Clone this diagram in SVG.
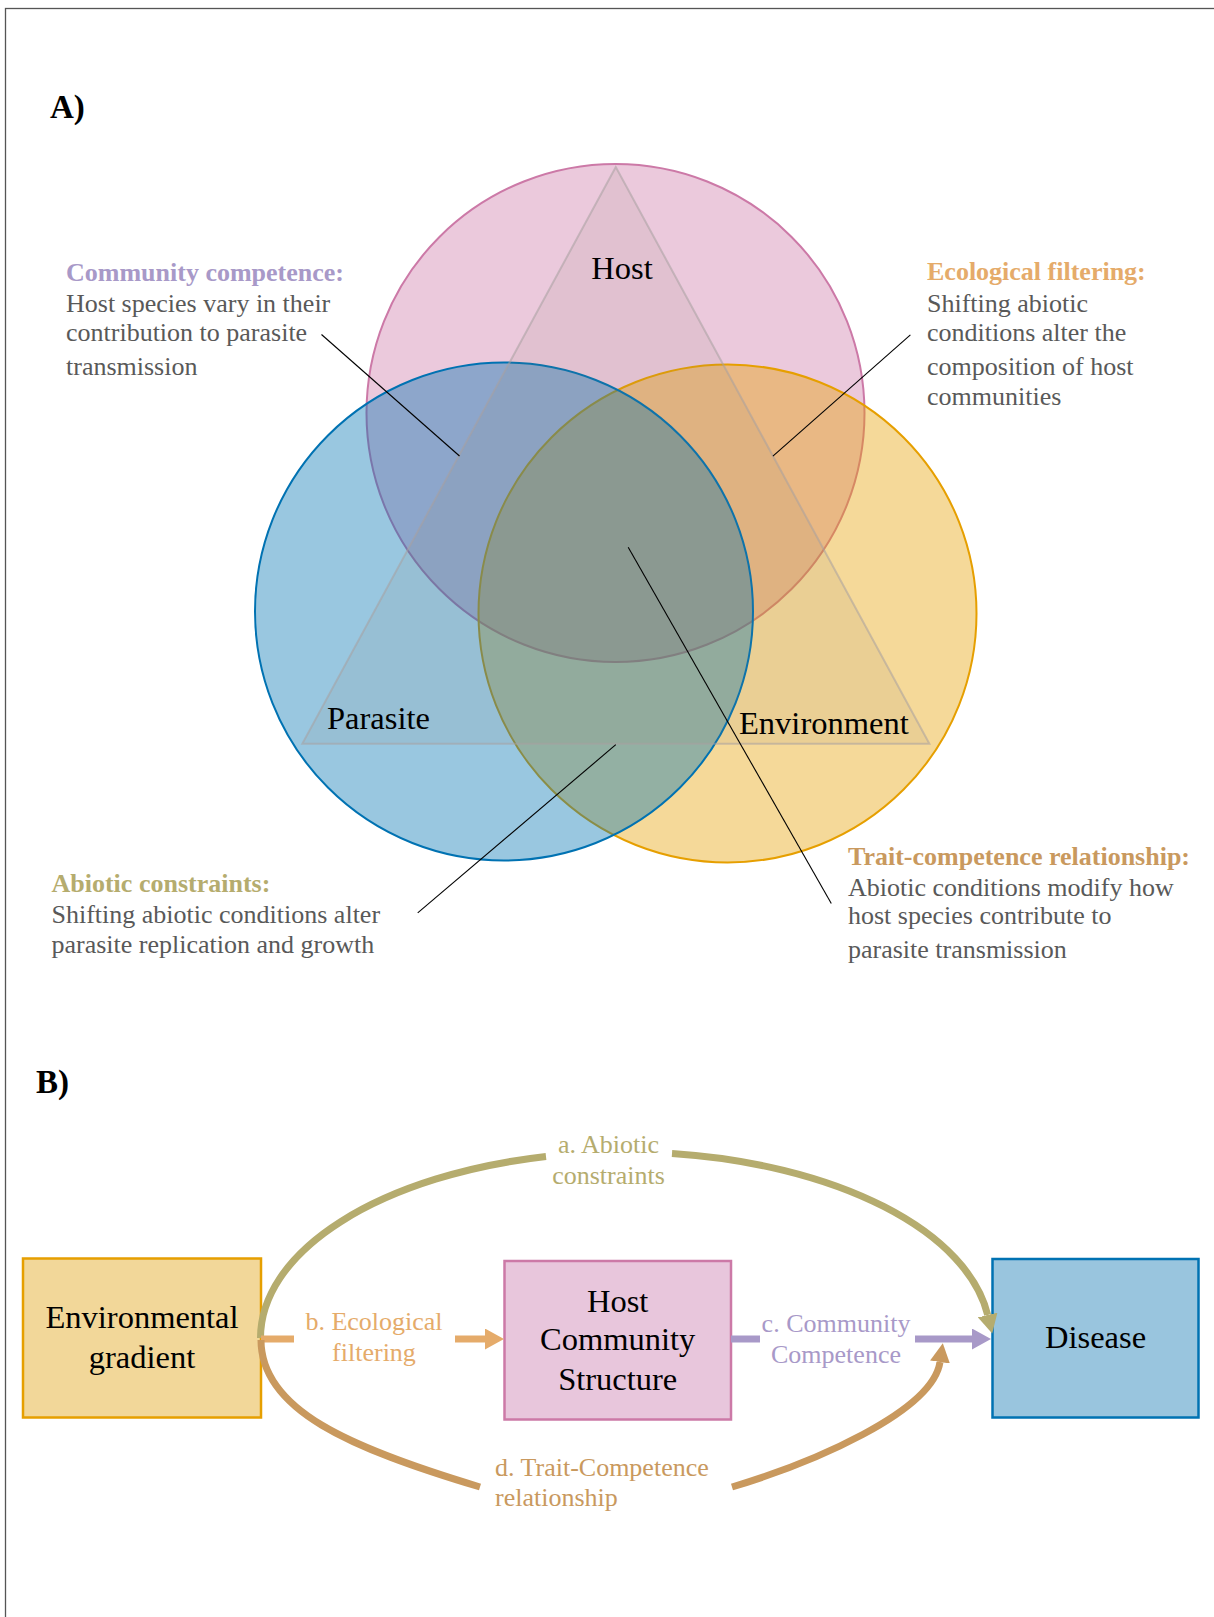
<svg xmlns="http://www.w3.org/2000/svg" width="1214" height="1617" viewBox="0 0 1214 1617">
<style>
text{font-family:"Liberation Serif","Times New Roman",serif}
.lbl{font-size:32.5px;fill:#000}
.panel{font-size:33px;font-weight:bold;fill:#000}
.ttl{font-size:26px;font-weight:bold}
.body{font-size:26px;fill:#595959}
.arcl{font-size:26px}
.leader{stroke:#000;stroke-width:1.1;fill:none}
.thick{fill:none;stroke-width:7}
</style>
<defs>
<marker id="ah-a" markerUnits="userSpaceOnUse" markerWidth="20" markerHeight="20" refX="0" refY="10" orient="auto"><path d="M0,0 L19,10 L0,20 z" fill="#b5ac6e"/></marker>
<marker id="ah-b" markerUnits="userSpaceOnUse" markerWidth="20" markerHeight="21" refX="0" refY="10.5" orient="auto"><path d="M0,0 L19,10.5 L0,21 z" fill="#e5ab6a"/></marker>
<marker id="ah-c" markerUnits="userSpaceOnUse" markerWidth="20" markerHeight="21" refX="0" refY="10.5" orient="auto"><path d="M0,0 L19,10.5 L0,21 z" fill="#a899c8"/></marker>
<marker id="ah-d" markerUnits="userSpaceOnUse" markerWidth="20" markerHeight="20" refX="0" refY="10" orient="auto"><path d="M0,0 L19,10 L0,20 z" fill="#c9995e"/></marker>
</defs>
<rect x="0" y="0" width="1214" height="1617" fill="#fff"/>
<rect x="5.5" y="8.5" width="1230" height="1630" fill="none" stroke="#555" stroke-width="1.3"/>

<text class="panel" x="50" y="118">A)</text>
<text class="panel" x="36" y="1093">B)</text>

<g id="venn-host"><circle cx="615.5" cy="413" r="249" fill="#CC79A7" fill-opacity="0.4" stroke="#CC79A7" stroke-width="2"/></g>
<g id="venn-environment"><circle cx="727.5" cy="613.5" r="249" fill="#E69F00" fill-opacity="0.4" stroke="#E69F00" stroke-width="2"/></g>
<g id="venn-parasite"><circle cx="504" cy="611.5" r="249" fill="#0072B2" fill-opacity="0.4" stroke="#0072B2" stroke-width="2"/></g>
<g id="triangle"><polygon points="615.8,167 302.3,743.8 929.4,743.8" fill="#8c7b70" fill-opacity="0.1" stroke="#a8a0a0" stroke-opacity="0.55" stroke-width="2"/></g>
<g id="venn-labels">
<text class="lbl" x="622" y="279" text-anchor="middle">Host</text>
<text class="lbl" x="327" y="728.6">Parasite</text>
<text class="lbl" x="739" y="733.6">Environment</text>
</g>

<g id="note-community">
<text class="ttl" x="66" y="281" fill="#a899c8">Community competence:</text>
<text class="body" x="66" y="311.5">Host species vary in their</text>
<text class="body" x="66" y="341">contribution to parasite</text>
<text class="body" x="66" y="375">transmission</text>
</g>
<g id="note-ecological">
<text class="ttl" x="927" y="280" fill="#e5ab6a">Ecological filtering:</text>
<text class="body" x="927" y="311.5">Shifting abiotic</text>
<text class="body" x="927" y="341">conditions alter the</text>
<text class="body" x="927" y="375">composition of host</text>
<text class="body" x="927" y="405">communities</text>
</g>
<g id="note-abiotic">
<text class="ttl" x="51.5" y="891.7" fill="#b5ac6e">Abiotic constraints:</text>
<text class="body" x="51.5" y="923.3">Shifting abiotic conditions alter</text>
<text class="body" x="51.5" y="952.7">parasite replication and growth</text>
</g>
<g id="note-trait">
<text class="ttl" x="848" y="865" fill="#c9995e">Trait-competence relationship:</text>
<text class="body" x="848" y="896">Abiotic conditions modify how</text>
<text class="body" x="848" y="924.3">host species contribute to</text>
<text class="body" x="848" y="958.3">parasite transmission</text>
</g>

<g id="box-env"><rect x="23" y="1258.5" width="238" height="159" fill="#f2d799" stroke="#E69F00" stroke-width="2.5"/>
<text class="lbl" x="142" y="1328.3" text-anchor="middle">Environmental</text>
<text class="lbl" x="142" y="1368.3" text-anchor="middle">gradient</text></g>
<g id="box-host"><rect x="504.5" y="1261" width="226.5" height="158.5" fill="#e8c6dc" stroke="#CC79A7" stroke-width="2.5"/>
<text class="lbl" x="617.7" y="1311.7" text-anchor="middle">Host</text>
<text class="lbl" x="617.7" y="1350" text-anchor="middle">Community</text>
<text class="lbl" x="617.7" y="1390" text-anchor="middle">Structure</text></g>
<g id="box-disease"><rect x="992.5" y="1259" width="206" height="158.5" fill="#99c5de" stroke="#0072B2" stroke-width="2.5"/>
<text class="lbl" x="1095.6" y="1348.3" text-anchor="middle">Disease</text></g>

<g id="connectors">
<line class="leader" x1="321.5" y1="334.5" x2="459.5" y2="456"/>
<line class="leader" x1="910.4" y1="334.8" x2="772.9" y2="456.2"/>
<line class="leader" x1="628.2" y1="547.2" x2="831.3" y2="903.5"/>
<line class="leader" x1="615.8" y1="744.7" x2="417.7" y2="912.8"/>

<path class="thick" stroke="#b5ac6e" d="M260.5 1338 A365 186 0 0 1 546 1156.5"/>
<path class="thick" stroke="#b5ac6e" d="M672 1153.5 A365 186 0 0 1 987.7 1315" marker-end="url(#ah-a)"/>
<text class="arcl" x="608.5" y="1153" text-anchor="middle" fill="#b5ac6e">a. Abiotic</text>
<text class="arcl" x="608.5" y="1183.5" text-anchor="middle" fill="#b5ac6e">constraints</text>

<path class="thick" stroke="#e5ab6a" d="M261 1339 H294"/>
<path class="thick" stroke="#e5ab6a" d="M455 1339 H485" marker-end="url(#ah-b)"/>
<text class="arcl" x="374" y="1330" text-anchor="middle" fill="#e5ab6a">b. Ecological</text>
<text class="arcl" x="374" y="1360.7" text-anchor="middle" fill="#e5ab6a">filtering</text>

<path class="thick" stroke="#a899c8" d="M731 1339 H760"/>
<path class="thick" stroke="#a899c8" d="M915 1339 H972" marker-end="url(#ah-c)"/>
<text class="arcl" x="836" y="1331.7" text-anchor="middle" fill="#a899c8">c. Community</text>
<text class="arcl" x="836" y="1362.7" text-anchor="middle" fill="#a899c8">Competence</text>

<path class="thick" stroke="#c9995e" d="M261 1340 C261 1410 350 1448 480 1487"/>
<path class="thick" stroke="#c9995e" d="M732 1487 C812 1463 932.5 1412 940 1362" marker-end="url(#ah-d)"/>
<text class="arcl" x="495" y="1476" fill="#c9995e">d. Trait-Competence</text>
<text class="arcl" x="495" y="1506" fill="#c9995e">relationship</text>
</g>
</svg>
